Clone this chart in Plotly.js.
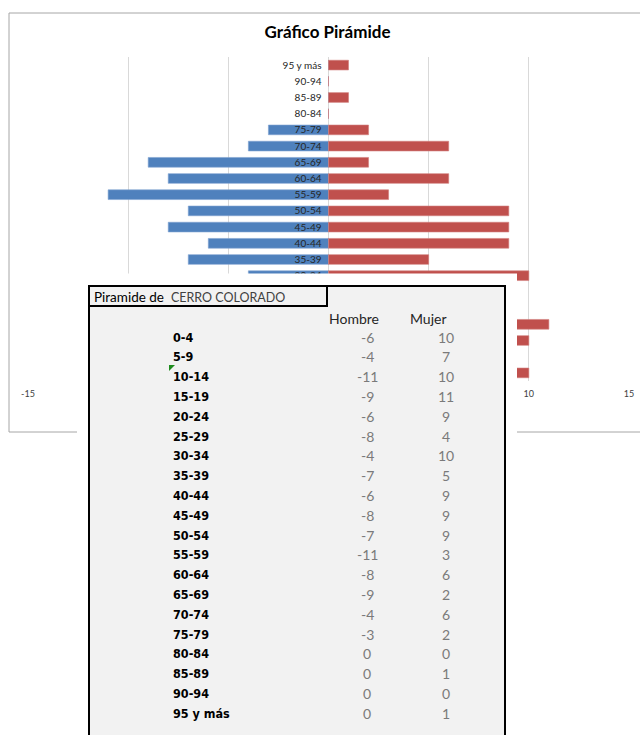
<!DOCTYPE html>
<html>
<head>
<meta charset="utf-8">
<script src="https://cdn.plot.ly/plotly-3.0.1.min.js"></script>
<style>
  html, body { margin: 0; padding: 0; background: #ffffff; }
  #chart { width: 640px; height: 735px; }
</style>
</head>
<body>
<div id="chart"></div>
<script>
// ---- data ----
const categories = ["0-4","5-9","10-14","15-19","20-24","25-29","30-34","35-39","40-44","45-49",
                    "50-54","55-59","60-64","65-69","70-74","75-79","80-84","85-89","90-94","95 y más"];
const hombre = [-6,-4,-11,-9,-6,-8,-4,-7,-6,-8,-7,-11,-8,-9,-4,-3,0,0,0,0];
const mujer  = [10,7,10,11,9,4,10,5,9,9,9,3,6,2,6,2,0,1,0,1];
const xTickVals = [-15,-10,-5,0,5,10,15];
const xTickText = ["-15","-10","-5","0","5","10","15"];
const chartTitle = "Gráfico Pirámide";
const tableLabel = "Piramide de";
const placeName = "CERRO COLORADO";
const seriesNames = ["Hombre","Mujer"];

// ---- geometry helpers (pixel -> paper) ----
const W = 640, H = 735;
const L = 28, R = 629, T = 57, B = 381;
const px = v => (v - L) / (R - L);
const py = v => (B - v) / (B - T);

const traces = [
  { type: "bar", orientation: "h", y: categories, x: hombre, name: seriesNames[0],
    marker: { color: "#4F81BD", line: { color: "#7FA2D2", width: 0.6 } },
    hoverinfo: "skip" },
  { type: "bar", orientation: "h", y: categories, x: mujer, name: seriesNames[1],
    marker: { color: "#C0504D", line: { color: "#D27F7D", width: 0.6 } },
    hoverinfo: "skip" }
];

const shapes = [
  // chart frame
  { type: "rect", xref: "paper", yref: "paper", layer: "above",
    x0: px(9), x1: px(660), y0: py(13), y1: py(432),
    line: { color: "#A6A6A6", width: 1 }, fillcolor: "rgba(0,0,0,0)" },
  // white sheet area covering part of chart
  { type: "rect", xref: "paper", yref: "paper", layer: "above",
    x0: px(77), x1: px(517), y0: py(273.5), y1: py(760),
    line: { width: 0 }, fillcolor: "#FFFFFF" },
  // table box
  { type: "rect", xref: "paper", yref: "paper", layer: "above",
    x0: px(89), x1: px(505), y0: py(286), y1: py(760),
    line: { color: "#000000", width: 2 }, fillcolor: "#F2F2F2" },
  // title cell
  { type: "rect", xref: "paper", yref: "paper", layer: "above",
    x0: px(89), x1: px(327), y0: py(286), y1: py(306),
    line: { color: "#000000", width: 2 }, fillcolor: "rgba(0,0,0,0)" },
  // excel green error marker
  { type: "path", xref: "paper", yref: "paper", layer: "above",
    path: "M " + px(169) + " " + py(365) + " L " + px(175) + " " + py(365) + " L " + px(169) + " " + py(371) + " Z",
    line: { width: 0 }, fillcolor: "#1E8C1E" }
];

const annotations = [];
annotations.push({
  xref: "paper", yref: "paper", x: px(92), y: py(297), xanchor: "left", yanchor: "middle",
  showarrow: false,
  text: '<span style="color:#000000">' + tableLabel + '</span>  <span style="color:#404040;font-size:12.5px">' + placeName + '</span>',
  font: { family: "Lato, 'Open Sans', sans-serif", size: 13.5, color: "#000000" }
});
annotations.push({
  xref: "paper", yref: "paper", x: px(354), y: py(318), xanchor: "center", yanchor: "middle",
  showarrow: false, text: seriesNames[0],
  font: { family: "Lato, 'Open Sans', sans-serif", size: 14, color: "#262626" }
});
annotations.push({
  xref: "paper", yref: "paper", x: px(428), y: py(318), xanchor: "center", yanchor: "middle",
  showarrow: false, text: seriesNames[1],
  font: { family: "Lato, 'Open Sans', sans-serif", size: 14, color: "#262626" }
});
for (let i = 0; i < categories.length; i++) {
  const yy = 337 + i * 19.8;
  annotations.push({
    xref: "paper", yref: "paper", x: px(171), y: py(yy), xanchor: "left", yanchor: "middle",
    showarrow: false, text: categories[i],
    font: { family: "'DejaVu Sans Condensed', 'Liberation Sans Narrow', sans-serif", size: 12.5, color: "#000000", weight: "bold" }
  });
  annotations.push({
    xref: "paper", yref: "paper", x: px(367), y: py(yy), xanchor: "center", yanchor: "middle",
    showarrow: false, text: String(hombre[i]),
    font: { family: "Lato, 'Open Sans', sans-serif", size: 14, color: "#7A7A7A" }
  });
  annotations.push({
    xref: "paper", yref: "paper", x: px(446), y: py(yy), xanchor: "center", yanchor: "middle",
    showarrow: false, text: String(mujer[i]),
    font: { family: "Lato, 'Open Sans', sans-serif", size: 14, color: "#7A7A7A" }
  });
}

const layout = {
  width: W, height: H,
  margin: { l: L, r: W - R, t: T, b: H - B, autoexpand: false },
  paper_bgcolor: "#FFFFFF", plot_bgcolor: "#FFFFFF",
  showlegend: false,
  barmode: "relative",
  bargap: 0.4,
  title: {
    text: chartTitle, xref: "container", yref: "container",
    x: 327.5 / W, y: 1 - 32 / H, xanchor: "center", yanchor: "middle",
    font: { family: "Lato, 'Open Sans', sans-serif", size: 17, color: "#000000", weight: "bold" }
  },
  xaxis: {
    range: [-15, 15], tickmode: "array", tickvals: xTickVals, ticktext: xTickText,
    showgrid: true, gridcolor: "#D9D9D9", gridwidth: 1,
    zeroline: true, zerolinecolor: "#D9D9D9", zerolinewidth: 1,
    showline: false, ticks: "", ticklabelstandoff: 6,
    tickfont: { family: "Lato, 'Open Sans', sans-serif", size: 9, color: "#404040" },
    fixedrange: true
  },
  yaxis: {
    type: "category", anchor: "free", position: px(328.5),
    showgrid: false, zeroline: false, showline: false, ticks: "",
    ticklabelstandoff: 7,
    tickfont: { family: "Lato, 'Open Sans', sans-serif", size: 10, color: "#262626" },
    fixedrange: true
  },
  shapes: shapes,
  annotations: annotations
};

Plotly.newPlot("chart", traces, layout, { displayModeBar: false, staticPlot: true });
</script>
</body>
</html>
